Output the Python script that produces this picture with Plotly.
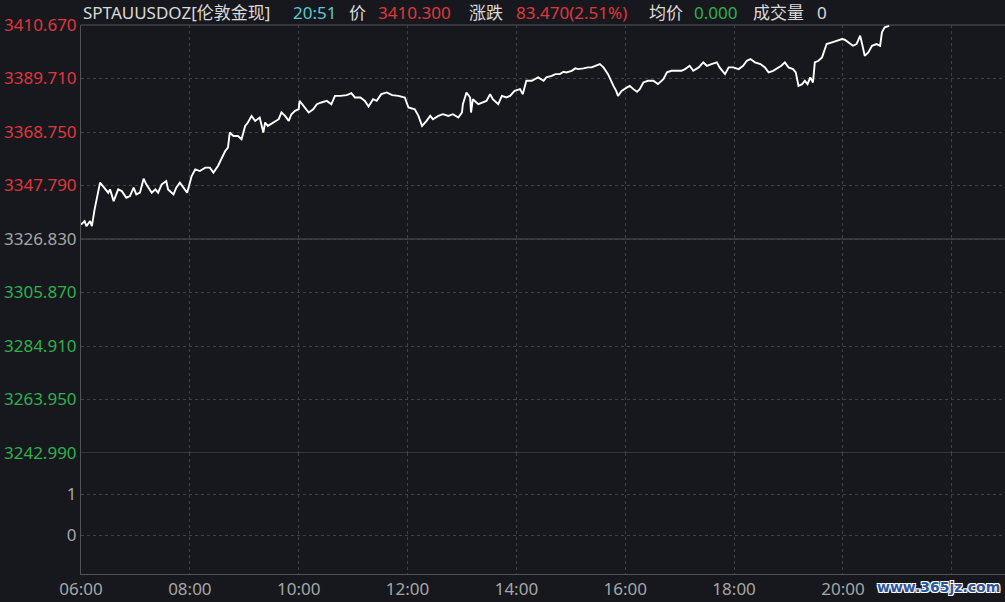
import plotly.graph_objects as go

# ---------------- data ----------------
trade_date = "2025-06-16"
times = [
    "06:00", "06:04", "06:06", "06:10", "06:12", "06:15", "06:21", "06:26", "06:30", "06:32",
    "06:36", "06:41", "06:45", "06:50", "06:54", "06:58", "07:01", "07:05", "07:09", "07:12",
    "07:18", "07:22", "07:25", "07:29", "07:34", "07:36", "07:42", "07:45", "07:49", "07:53",
    "07:57", "08:02", "08:06", "08:11", "08:17", "08:22", "08:26", "08:31", "08:35", "08:39",
    "08:42", "08:44", "08:48", "08:53", "08:57", "09:01", "09:04", "09:08", "09:12", "09:17",
    "09:21", "09:23", "09:26", "09:32", "09:38", "09:41", "09:45", "09:49", "09:52", "09:56",
    "10:00", "10:01", "10:05", "10:11", "10:16", "10:20", "10:25", "10:31", "10:36", "10:40",
    "10:46", "10:53", "10:58", "11:02", "11:08", "11:13", "11:17", "11:22", "11:26", "11:31",
    "11:37", "11:43", "11:50", "11:57", "12:01", "12:08", "12:12", "12:16", "12:21", "12:25",
    "12:28", "12:34", "12:39", "12:45", "12:50", "12:56", "13:00", "13:01", "13:05", "13:09",
    "13:10", "13:12", "13:18", "13:23", "13:27", "13:31", "13:34", "13:40", "13:44", "13:49",
    "13:53", "13:58", "14:04", "14:07", "14:11", "14:17", "14:20", "14:24", "14:30", "14:33",
    "14:39", "14:43", "14:48", "14:52", "14:55", "15:01", "15:05", "15:08", "15:14", "15:19",
    "15:23", "15:27", "15:32", "15:36", "15:41", "15:47", "15:50", "15:52", "15:56", "16:02",
    "16:05", "16:09", "16:13", "16:16", "16:20", "16:25", "16:31", "16:36", "16:42", "16:46",
    "16:51", "16:57", "17:02", "17:06", "17:11", "17:15", "17:21", "17:26", "17:30", "17:35",
    "17:41", "17:44", "17:50", "17:54", "17:59", "18:05", "18:10", "18:14", "18:18", "18:23",
    "18:29", "18:34", "18:38", "18:43", "18:49", "18:52", "18:56", "19:00", "19:05", "19:08",
    "19:11", "19:15", "19:18", "19:21", "19:24", "19:27", "19:29", "19:33", "19:37", "19:39",
    "19:42", "19:48", "19:53", "19:59", "20:02", "20:06", "20:11", "20:15", "20:19", "20:22",
    "20:24", "20:28", "20:32", "20:37", "20:41", "20:43", "20:46", "20:51",
]
prices = [
    3332.52, 3333.82, 3331.86, 3333.82, 3331.86, 3338.42, 3348.90, 3346.94, 3344.97, 3346.27,
    3341.67, 3346.27, 3345.60, 3343.01, 3343.64, 3346.94, 3344.31, 3344.97, 3350.47, 3348.23,
    3344.97, 3346.27, 3344.97, 3348.23, 3349.53, 3346.27, 3344.31, 3346.94, 3348.90, 3346.94,
    3344.97, 3351.49, 3354.12, 3353.46, 3354.79, 3354.79, 3352.83, 3355.42, 3358.72, 3361.31,
    3362.64, 3368.53, 3367.20, 3367.20, 3365.90, 3371.13, 3372.46, 3375.05, 3373.09, 3374.42,
    3368.53, 3372.46, 3371.13, 3372.46, 3373.76, 3376.39, 3375.05, 3373.09, 3375.72, 3377.02,
    3377.68, 3380.94, 3378.98, 3376.39, 3377.68, 3379.65, 3380.32, 3380.94, 3379.65, 3382.91,
    3382.91, 3383.18, 3383.97, 3382.28, 3382.28, 3380.94, 3378.74, 3381.61, 3380.94, 3383.57,
    3384.24, 3383.18, 3382.91, 3382.28, 3378.35, 3377.68, 3375.05, 3371.13, 3373.09, 3375.05,
    3373.76, 3375.05, 3375.72, 3375.05, 3375.72, 3374.42, 3376.39, 3379.65, 3384.24, 3382.28,
    3376.39, 3381.61, 3379.65, 3380.32, 3380.94, 3383.57, 3381.61, 3379.65, 3382.91, 3382.28,
    3382.91, 3384.87, 3385.54, 3383.57, 3388.80, 3388.80, 3389.46, 3390.13, 3388.80, 3390.13,
    3390.76, 3391.43, 3391.43, 3392.33, 3392.10, 3392.72, 3393.67, 3393.39, 3393.67, 3394.06,
    3394.06, 3394.69, 3395.36, 3394.06, 3391.43, 3386.83, 3384.87, 3382.91, 3384.87, 3386.21,
    3386.83, 3385.54, 3384.48, 3385.54, 3388.17, 3388.80, 3388.80, 3387.50, 3389.46, 3392.10,
    3392.72, 3392.72, 3392.72, 3393.39, 3394.69, 3392.72, 3394.06, 3396.02, 3394.69, 3395.36,
    3396.02, 3394.06, 3391.43, 3394.06, 3394.06, 3393.39, 3394.69, 3396.65, 3397.32, 3396.02,
    3395.36, 3394.06, 3392.10, 3392.72, 3394.06, 3394.69, 3396.02, 3394.06, 3393.39, 3392.10,
    3386.83, 3387.50, 3388.80, 3387.50, 3390.13, 3388.17, 3396.02, 3396.65, 3397.99, 3399.95,
    3403.21, 3403.88, 3404.50, 3405.17, 3404.90, 3403.88, 3402.54, 3403.21, 3406.47, 3401.91,
    3398.61, 3399.95, 3402.54, 3403.21, 3402.54, 3407.80, 3409.77, 3410.30,
]
prev_close = 3326.83
price_ticks = [3410.67, 3389.71, 3368.75, 3347.79, 3326.83, 3305.87, 3284.91, 3263.95, 3242.99]
volume_times = ["20:51"]
volume_values = [0]
volume_ticks = [1, 0]
x_tick_times = ["06:00", "08:00", "10:00", "12:00", "14:00", "16:00", "18:00", "20:00", "22:00"]
x_tick_labels = ["06:00", "08:00", "10:00", "12:00", "14:00", "16:00", "18:00", "20:00", ""]
x_end_time = "22:58:40"

header_items = [
    ("SPTAUUSDOZ[伦敦金现]", "white", 81),
    ("20:51", "cyan", 291),
    ("价", "white", 347),
    ("3410.300", "red", 376),
    ("涨跌", "white", 467),
    ("83.470(2.51%)", "red", 514),
    ("均价", "white", 647),
    ("0.000", "green", 692),
    ("成交量", "white", 751),
    ("0", "white", 815),
]

# ---------------- style ----------------
BG = "#16181d"
RED = "#e0363c"
GREEN = "#2fb14c"
GRAY = "#a6a6a6"
CYAN = "#5cc9d0"
WHITE = "#dadada"
GRID = "#3e4148"
SOLID = "#50535a"
COLORS = {"white": WHITE, "cyan": CYAN, "red": RED, "green": GREEN}
FONT = "Noto Sans, Noto Sans CJK SC, sans-serif"

W, H = 1005, 602
L, R, T, B = 81, 0, 25, 28
split_px = 121  # height of lower (volume) panel
plot_h = H - T - B
plot_w = W - L - R
split = split_px / plot_h


def full(t):
    return f"{trade_date} {t}"


def tick_color(v):
    if abs(v - prev_close) < 1e-6:
        return GRAY
    return RED if v > prev_close else GREEN


fig = go.Figure()
fig.add_trace(go.Scatter(
    x=[full(t) for t in times], y=prices, mode="lines",
    line=dict(color="#ffffff", width=1.9), xaxis="x", yaxis="y", hoverinfo="skip",
))
fig.add_trace(go.Bar(
    x=[full(t) for t in volume_times], y=volume_values, xaxis="x", yaxis="y2",
    marker=dict(color="#e0363c", line=dict(width=0)), hoverinfo="skip",
))

fig.update_layout(
    width=W, height=H,
    margin=dict(l=L, r=R, t=T, b=B, autoexpand=False),
    paper_bgcolor=BG, plot_bgcolor=BG,
    showlegend=False,
    font=dict(family=FONT, size=17, color=GRAY),
    xaxis=dict(
        type="date", anchor="y2",
        range=[full(times[0]), full(x_end_time)],
        tickmode="array", tickvals=[full(t) for t in x_tick_times], ticktext=x_tick_labels,
        showgrid=True, gridcolor=GRID, griddash="dot", gridwidth=1,
        showline=True, linecolor=SOLID, linewidth=1,
        zeroline=False, ticks="",
        tickfont=dict(family=FONT, size=17, color=GRAY),
    ),
    yaxis=dict(
        domain=[split, 1], range=[price_ticks[-1], price_ticks[0]],
        tickmode="array", tickvals=price_ticks,
        ticktext=[f'<span style="color:{tick_color(v)}">{v:.3f}</span>' for v in price_ticks],
        showgrid=True, gridcolor=GRID, griddash="dot", gridwidth=1,
        showline=True, linecolor=SOLID, linewidth=1,
        zeroline=False, ticks="",
        tickfont=dict(family=FONT, size=17),
    ),
    yaxis2=dict(
        domain=[0, split], range=[-0.95, 2.0],
        tickmode="array", tickvals=volume_ticks, ticktext=[str(v) for v in volume_ticks],
        showgrid=True, gridcolor=GRID, griddash="dot", gridwidth=1,
        showline=True, linecolor=SOLID, linewidth=1,
        zeroline=False, ticks="",
        tickfont=dict(family=FONT, size=17, color=GRAY),
    ),
)

# solid reference lines: previous close, panel separator, top border
fig.add_shape(type="line", xref="paper", yref="y", x0=0, x1=1, y0=prev_close, y1=prev_close,
              line=dict(color=SOLID, width=1.2), layer="below")
fig.add_shape(type="line", xref="paper", yref="y", x0=0, x1=1, y0=price_ticks[-1], y1=price_ticks[-1],
              line=dict(color=SOLID, width=1.2), layer="below")
fig.add_shape(type="line", xref="paper", yref="paper", x0=0, x1=1, y0=1, y1=1,
              line=dict(color=SOLID, width=1.2), layer="below")

# header
hdr_y = 1 + (T - 12) / plot_h
for text, col, px in header_items:
    fig.add_annotation(
        text=text, xref="paper", yref="paper", x=(px - L) / plot_w, y=hdr_y,
        xanchor="left", yanchor="middle", showarrow=False,
        font=dict(family=FONT, size=17, color=COLORS[col]),
    )

# watermark
fig.add_annotation(
    text="<b>www.365jz.com</b>", xref="paper", yref="paper",
    x=(938 - L) / plot_w, y=-(587 - (H - B)) / plot_h,
    xanchor="center", yanchor="middle", showarrow=False,
    font=dict(family="DejaVu Sans", size=14, color="#2f5597",
              shadow="1px 1px 0 #fff, -1px -1px 0 #fff, 1px -1px 0 #fff, -1px 1px 0 #fff"),
)

fig.write_html(
    "out.html",
    config={"displayModeBar": False},
    post_script="document.body.style.margin='0';document.body.style.background='#16181d';",
)
